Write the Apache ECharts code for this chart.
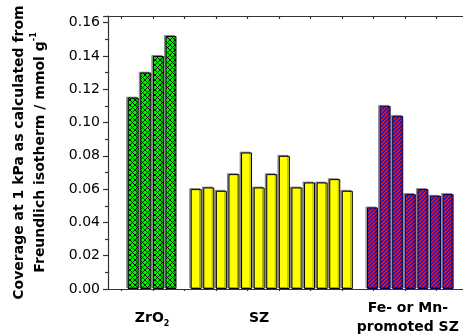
<!DOCTYPE html>
<html><head><meta charset="utf-8">
<script src="https://cdn.jsdelivr.net/npm/echarts@6/dist/echarts.min.js"></script>
<style>html,body{margin:0;padding:0;background:#fff}#c{width:463px;height:334px}</style>
</head><body><div id="c"></div>
<script>
// ---- data ----
const groupNames = ['ZrO2', 'SZ', 'Fe- or Mn-\npromoted SZ'];
const groupLabelPos = [3.5, 12, 23.8];
const zro2X = [2, 3, 4, 5];
const zro2Values = [0.115, 0.130, 0.140, 0.152];
const szX = [7, 8, 9, 10, 11, 12, 13, 14, 15, 16, 17, 18, 19];
const szValues = [0.060, 0.061, 0.059, 0.069, 0.082, 0.061, 0.069, 0.080, 0.061, 0.064, 0.064, 0.066, 0.059];
const promotedX = [21, 22, 23, 24, 25, 26, 27];
const promotedValues = [0.049, 0.110, 0.104, 0.057, 0.060, 0.056, 0.057];
const xTickPos = [1.08, 3.58, 6.08, 8.58, 11.08, 13.58, 16.08, 18.58, 21.08, 23.58, 26.08];

// ---- patterns ----
function crossHatch() {
  const c = document.createElement('canvas'); c.width = 5; c.height = 5;
  const g = c.getContext('2d');
  g.fillStyle = '#00f000'; g.fillRect(0, 0, 5, 5);
  g.strokeStyle = '#000'; g.lineWidth = 0.9;
  g.beginPath(); g.moveTo(0, 0); g.lineTo(5, 5); g.moveTo(5, 0); g.lineTo(0, 5); g.stroke();
  return c;
}
function stripes() {
  const c = document.createElement('canvas'); c.width = 4; c.height = 4;
  const g = c.getContext('2d');
  for (let x = 0; x < 4; x++) for (let y = 0; y < 4; y++) {
    g.fillStyle = ((x + y) % 4 < 2) ? '#ee1010' : '#1a1ad0';
    g.fillRect(x, y, 1, 1);
  }
  return c;
}

const FONT = 'DejaVu Sans';
const pairs = (xs, vs) => xs.map((x, i) => [x, vs[i]]);
const shadow = { shadowColor: 'rgba(0,0,0,0.35)', shadowOffsetX: -1.5, shadowOffsetY: -1, shadowBlur: 0 };

const chart = echarts.init(document.getElementById('c'), null, { renderer: 'canvas' });
const axisLineStyle = { color: '#333', width: 1.2 };
chart.setOption({
  animation: false,
  backgroundColor: '#fff',
  grid: { left: 108, right: -4, top: 16, bottom: 45, outerBoundsMode: 'none', containLabel: false },
  xAxis: [{
    type: 'value', position: 'bottom', min: 0, max: 28.5,
    axisLine: { show: true, onZero: false, lineStyle: axisLineStyle },
    splitLine: { show: false },
    axisTick: { show: true, customValues: xTickPos, length: 2, lineStyle: axisLineStyle },
    axisLabel: {
      customValues: groupLabelPos, margin: 29, verticalAlign: 'middle', color: '#000',
      fontFamily: FONT, fontSize: 14, fontWeight: 'bold', lineHeight: 19,
      formatter: function (v) {
        let i = 0, best = 1e9;
        groupLabelPos.forEach((p, k) => { if (Math.abs(p - v) < best) { best = Math.abs(p - v); i = k; } });
        const name = groupNames[i];
        if (name === 'ZrO2') return '{b|ZrO}{sub|2}';
        return name.split('\n').map(s => '{b|' + s + '}').join('\n');
      },
      rich: {
        b: { fontFamily: FONT, fontSize: 14, fontWeight: 'bold', color: '#000', lineHeight: 19 },
        sub: { fontFamily: FONT, fontSize: 8, fontWeight: 'bold', color: '#000', verticalAlign: 'bottom', padding: [6, 0, 0, 0], lineHeight: 19 }
      }
    }
  }, {
    type: 'value', position: 'top', min: 0, max: 28.5,
    axisLine: { show: true, onZero: false, lineStyle: axisLineStyle },
    splitLine: { show: false },
    axisTick: { show: true, inside: true, customValues: xTickPos, length: 3, lineStyle: axisLineStyle },
    axisLabel: { show: false }
  }],
  yAxis: {
    type: 'value', min: 0, max: 0.164, interval: 0.02,
    axisLine: { show: true, lineStyle: axisLineStyle },
    splitLine: { show: false },
    axisTick: { show: true, length: 5, lineStyle: axisLineStyle },
    minorTick: { show: true, splitNumber: 2, length: 3, lineStyle: axisLineStyle },
    axisLabel: { formatter: v => v.toFixed(2), color: '#000', fontFamily: FONT, fontSize: 14, margin: 8, showMaxLabel: false },
    name: 'Coverage at 1 kPa as calculated from\nFreundlich isotherm / mmol g{sup|-1}',
    nameLocation: 'middle', nameGap: 57, nameRotate: 90,
    nameTextStyle: {
      fontFamily: FONT, fontSize: 14, fontWeight: 'bold', color: '#000', lineHeight: 21,
      rich: { sup: { fontFamily: FONT, fontSize: 8, fontWeight: 'bold', color: '#000', verticalAlign: 'top', lineHeight: 10 } }
    }
  },
  series: [{
    type: 'bar', name: 'ZrO2', data: pairs(zro2X, zro2Values), barWidth: 11, barGap: '-100%',
    itemStyle: Object.assign({ color: { image: crossHatch(), repeat: 'repeat' }, borderColor: '#000', borderWidth: 1 }, shadow)
  }, {
    type: 'bar', name: 'SZ', data: pairs(szX, szValues), barWidth: 11, barGap: '-100%',
    itemStyle: Object.assign({ color: '#ffff00', borderColor: '#000', borderWidth: 1 }, shadow)
  }, {
    type: 'bar', name: 'Promoted SZ', data: pairs(promotedX, promotedValues), barWidth: 11, barGap: '-100%',
    itemStyle: Object.assign({ color: { image: stripes(), repeat: 'repeat' }, borderColor: '#000050', borderWidth: 1 }, shadow)
  }]
});
</script></body></html>
